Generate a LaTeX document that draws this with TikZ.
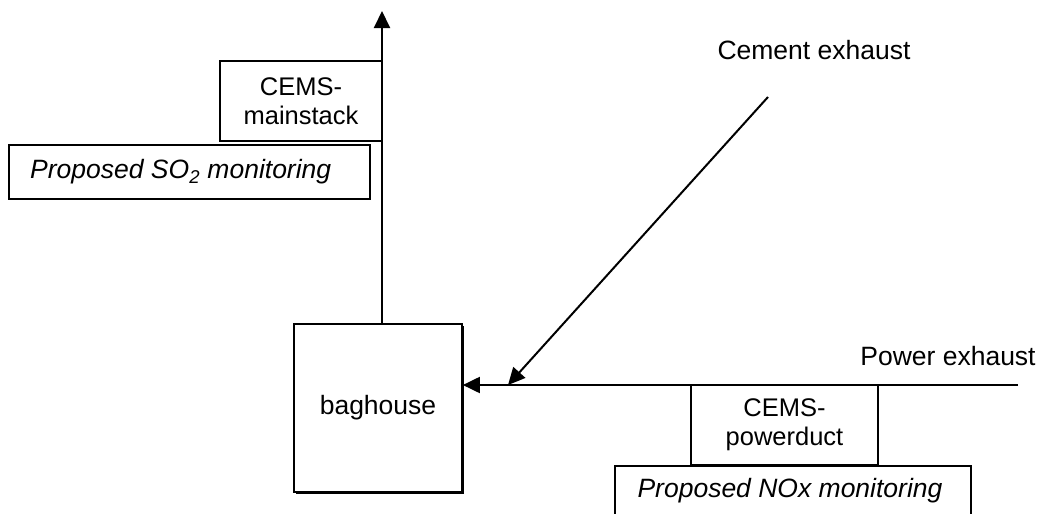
\documentclass[tikz,border=0pt]{standalone}
\usepackage{fontspec}
\setmainfont{Liberation Sans}
\usetikzlibrary{arrows.meta,shadows}
\begin{document}
\begin{tikzpicture}[x=1pt,y=-1pt,
  every node/.style={font=\fontsize{26.5}{30}\selectfont},
  box/.style={draw,line width=1.7pt,inner sep=0pt,align=center},
  cems/.style={box,font=\fontsize{25.5}{29}\selectfont},
  arr/.style={line width=2pt,-{Triangle[length=17pt,width=16pt]}},
  lbl/.style={inner sep=0pt},
  itl/.style={inner sep=0pt,font=\fontsize{26.5}{30}\selectfont\itshape}]
\useasboundingbox (0,0) rectangle (1042,514);
\node[box,minimum width=168pt,minimum height=168pt,
  drop shadow={shadow xshift=2pt,shadow yshift=-2pt,fill=black,opacity=1},fill=white]
  (baghouse) at (378,408) {baghouse};
\coordinate (stacktop) at (382,11);
\draw[arr] (baghouse.north -| stacktop) -- (stacktop);
\node[cems,minimum width=162pt,minimum height=80pt] (mainstack) at (301,101) {CEMS-\\mainstack};
\node[box,minimum width=361pt,minimum height=54pt] (so2) at (189.5,172) {};
\node[itl,anchor=west] (so2t) at (30,172) {Proposed SO\textsubscript{2} monitoring};
\coordinate (pe) at (1018,385);
\draw[arr] (pe) -- (baghouse.east |- pe);
\coordinate (ce) at (768,97);
\coordinate (cm) at (508,385);
\draw[arr] (ce) -- (cm);
\node[lbl] (cement) at (814,50) {Cement exhaust};
\node[lbl] (power) at (948,356) {Power exhaust};
\node[cems,minimum width=187pt,minimum height=80pt] (powerduct) at (784.5,425) {CEMS-\\powerduct};
\node[box,minimum width=356pt,minimum height=60pt,anchor=north] (nox) at (793,465) {};
\node[itl] (noxt) at (790,491) {Proposed NOx monitoring};
\end{tikzpicture}
\end{document}
